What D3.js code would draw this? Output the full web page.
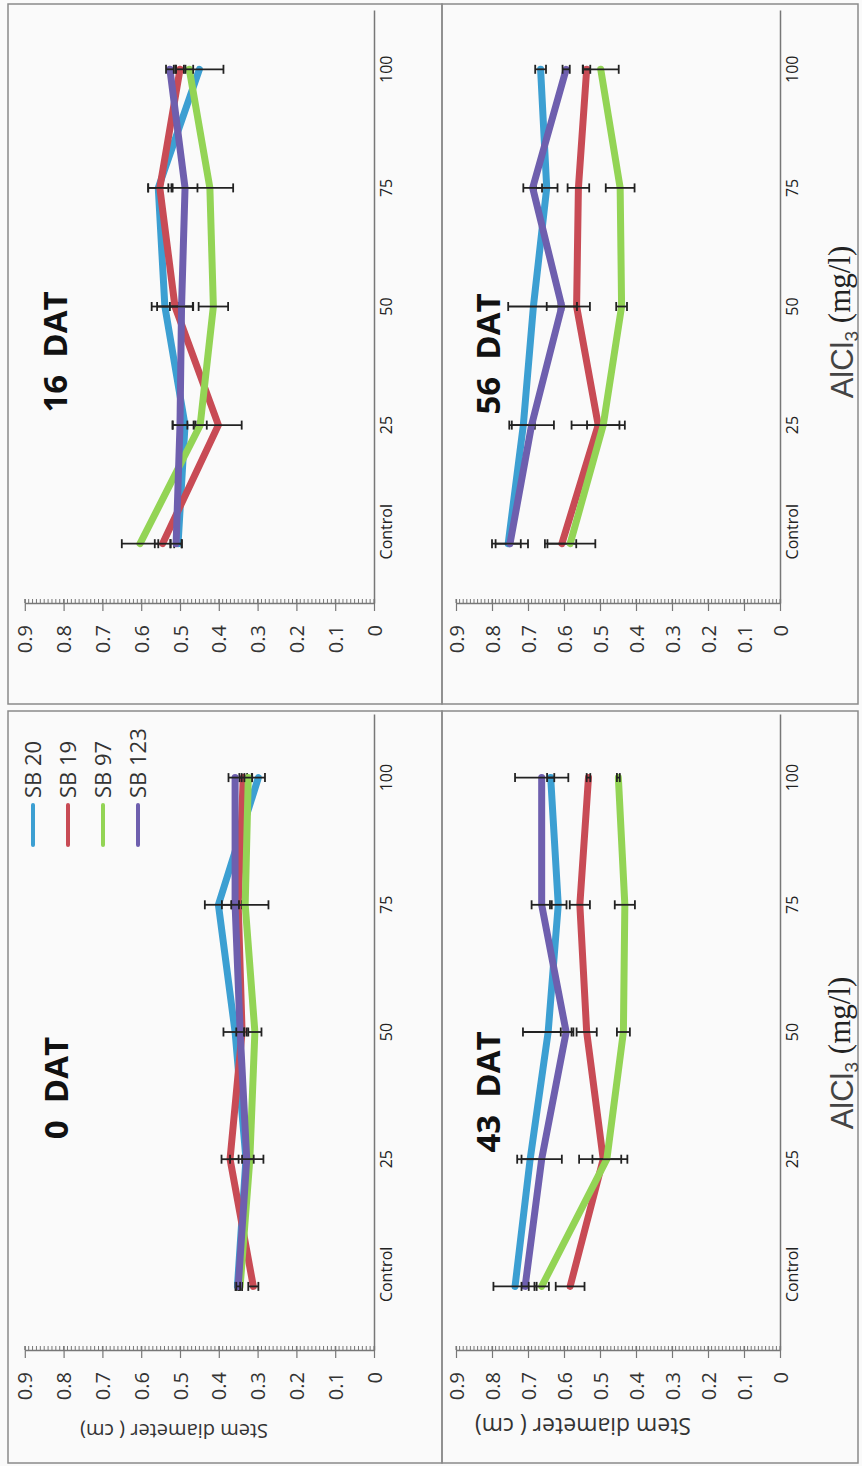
<!DOCTYPE html>
<html><head><meta charset="utf-8">
<script src="https://cdn.jsdelivr.net/npm/d3@7"></script>
<style>body{margin:0;background:#fafafa}svg{display:block}</style>
</head><body>
<script>
const categories = ["Control","25","50","75","100"];
const seriesNames = ["SB 20","SB 19","SB 97","SB 123"];
const seriesColors = ["#3c9fd2","#c84b55","#93d455","#6e5fae"];
const valueTicks = [0,0.1,0.2,0.3,0.4,0.5,0.6,0.7,0.8,0.9];

// 0 DAT (rows: SB 20, SB 19, SB 97, SB 123)
const dat0Mean = [
 [0.352,0.330,0.358,0.401,0.298],
 [0.311,0.371,0.340,0.350,0.337],
 [0.345,0.320,0.307,0.332,0.324],
 [0.350,0.328,0.345,0.358,0.358]];
const dat0Err = [
 [0.005,0.010,0.030,0.035,0.017],
 [0.013,0.022,0.006,0.010,0.010],
 [0.005,0.010,0.017,0.060,0.010],
 [0.005,0.043,0.010,0.010,0.017]];
// 16 DAT
const dat16Mean = [
 [0.505,0.487,0.539,0.556,0.450],
 [0.545,0.401,0.513,0.552,0.500],
 [0.603,0.448,0.414,0.423,0.476],
 [0.510,0.500,0.496,0.487,0.526]];
const dat16Err = [
 [0.010,0.032,0.034,0.026,0.062],
 [0.020,0.060,0.046,0.030,0.010],
 [0.047,0.017,0.038,0.060,0.010],
 [0.014,0.019,0.030,0.032,0.010]];
// 43 DAT
const dat43Mean = [
 [0.736,0.694,0.644,0.616,0.637],
 [0.583,0.491,0.537,0.556,0.532],
 [0.662,0.481,0.435,0.431,0.449],
 [0.708,0.662,0.594,0.662,0.662]];
const dat43Err = [
 [0.060,0.036,0.070,0.023,0.010],
 [0.040,0.067,0.028,0.028,0.005],
 [0.020,0.040,0.018,0.028,0.004],
 [0.010,0.056,0.015,0.028,0.074]];
// 56 DAT
const dat56Mean = [
 [0.755,0.713,0.685,0.648,0.665],
 [0.606,0.505,0.565,0.560,0.537],
 [0.583,0.491,0.440,0.444,0.498],
 [0.750,0.690,0.606,0.687,0.594]];
const dat56Err = [
 [0.035,0.032,0.070,0.030,0.015],
 [0.040,0.074,0.037,0.030,0.010],
 [0.070,0.045,0.015,0.040,0.050],
 [0.050,0.062,0.042,0.026,0.010]];

const panels = [
 {title:"16  DAT", mean:dat16Mean, err:dat16Err, frame:[8,4,442,704], v0:374, v9:24.8, yTop:10, yBot:603, tx:67, ty:352, legend:false, stem:null, alcl:null},
 {title:"56  DAT", mean:dat56Mean, err:dat56Err, frame:[442,4,858,704], v0:780, v9:456, yTop:10, yBot:603, tx:500, ty:354, legend:false, stem:null, alcl:[853,322]},
 {title:"0  DAT", mean:dat0Mean, err:dat0Err, frame:[8,711,442,1463], v0:374, v9:24.8, yTop:714, yBot:1350, tx:68, ty:1088, legend:true, stem:[174,1424,20], alcl:null},
 {title:"43  DAT", mean:dat43Mean, err:dat43Err, frame:[442,711,858,1463], v0:780, v9:456, yTop:714, yBot:1350, tx:500, ty:1092, legend:false, stem:[583,1418,23], alcl:[853,1053]}
];

const W = 862, H = 1466;
const svg = d3.select("body").append("svg").attr("width",W).attr("height",H);
svg.append("rect").attr("width",W).attr("height",H).attr("fill","#fafafa");
const FONT = "'Open Sans', 'Noto Sans', sans-serif";

panels.forEach(p => {
  const g = svg.append("g");
  const [fx0,fy0,fx1,fy1] = p.frame;
  g.append("rect").attr("x",fx0).attr("y",fy0).attr("width",fx1-fx0).attr("height",fy1-fy0)
    .attr("fill","none").attr("stroke","#8a8a8a").attr("stroke-width",1.5);

  const vx = d3.scaleLinear().domain([0,0.9]).range([p.v0,p.v9]);
  const cy = d3.scaleBand().domain(categories).range([p.yBot,p.yTop]);
  const cc = c => cy(c) + cy.bandwidth()/2;

  // minor ticks
  g.append("g").selectAll("line").data(d3.range(0,91)).join("line")
    .attr("x1",i=>vx(i/100)).attr("x2",i=>vx(i/100))
    .attr("y1",p.yBot-4).attr("y2",p.yBot)
    .attr("stroke","#777").attr("stroke-width",1);

  // value axis
  const ax = g.append("g").attr("transform",`translate(0,${p.yBot})`)
    .call(d3.axisBottom(vx).tickValues(valueTicks).tickSize(8).tickSizeOuter(0)
      .tickFormat(d => d===0 ? "0" : d3.format(".1f")(d)));
  ax.select(".domain").attr("stroke","#777").attr("stroke-width",1.5);
  ax.selectAll(".tick line").attr("stroke","#777").attr("y1",-4).attr("stroke-width",1.2);
  ax.selectAll(".tick text").attr("transform","rotate(-90)").attr("x",-22).attr("y",0)
    .attr("dy","0.35em").attr("text-anchor","end")
    .style("font-size","20px").style("font-family",FONT).attr("fill","#333");

  // category axis
  const cax = g.append("g").attr("transform",`translate(${p.v0},0)`)
    .call(d3.axisRight(cy).tickSize(0).tickSizeOuter(0));
  cax.select(".domain").attr("stroke","#777").attr("stroke-width",1.5);
  cax.selectAll(".tick text").attr("transform","rotate(-90)")
    .attr("x",d => d === categories[0] ? 12 : 0).attr("y",18)
    .attr("dy",0).attr("text-anchor","middle")
    .style("font-size","16px").style("font-family",FONT).attr("fill","#222");

  // series
  const line = d3.line().x(d=>vx(d)).y((d,i)=>cc(categories[i]));
  p.mean.forEach((vals, s) => {
    const sg = g.append("g");
    sg.append("path").attr("d",line(vals)).attr("fill","none")
      .attr("stroke",seriesColors[s]).attr("stroke-width",7)
      .attr("stroke-linecap","round").attr("stroke-linejoin","round");
    const eb = vals.map((m,i)=>({m, e:p.err[s][i], y:cc(categories[i])}));
    const ebg = sg.append("g").attr("stroke","#222").attr("stroke-width",1.8);
    ebg.selectAll("line.bar").data(eb).join("line").attr("class","bar")
      .attr("x1",d=>vx(d.m-d.e)).attr("x2",d=>vx(d.m+d.e)).attr("y1",d=>d.y).attr("y2",d=>d.y);
    ebg.selectAll("line.capa").data(eb).join("line").attr("class","capa")
      .attr("x1",d=>vx(d.m-d.e)).attr("x2",d=>vx(d.m-d.e)).attr("y1",d=>d.y-4.5).attr("y2",d=>d.y+4.5);
    ebg.selectAll("line.capb").data(eb).join("line").attr("class","capb")
      .attr("x1",d=>vx(d.m+d.e)).attr("x2",d=>vx(d.m+d.e)).attr("y1",d=>d.y-4.5).attr("y2",d=>d.y+4.5);
  });

  // title
  g.append("text").attr("transform",`translate(${p.tx},${p.ty}) rotate(-90)`)
    .attr("text-anchor","middle").style("white-space","pre")
    .style("font-family",FONT).style("font-weight","bold").style("font-size","33px")
    .attr("fill","#111").text(p.title);

  // legend
  if (p.legend) {
    seriesNames.forEach((n,i) => {
      const lx = 33 + i*35;
      g.append("line").attr("x1",lx).attr("x2",lx).attr("y1",805).attr("y2",845)
        .attr("stroke",seriesColors[i]).attr("stroke-width",4).attr("stroke-linecap","round");
      g.append("text").attr("transform",`translate(${lx+8},798) rotate(-90)`)
        .attr("text-anchor","start").style("font-family",FONT).style("font-size","22px")
        .attr("fill","#333").text(n);
    });
  }
  // stem diameter label
  if (p.stem) {
    g.append("text").attr("transform",`translate(${p.stem[0]},${p.stem[1]}) rotate(180)`)
      .attr("text-anchor","middle").style("font-family",FONT).style("font-size",p.stem[2]+"px")
      .attr("fill","#333").text("Stem diameter ( cm)");
  }
  // AlCl3 label
  if (p.alcl) {
    const t = g.append("text").attr("transform",`translate(${p.alcl[0]},${p.alcl[1]}) rotate(-90)`)
      .attr("text-anchor","middle").style("font-size","31px").attr("fill","#222").style("white-space","pre");
    t.append("tspan").style("font-family","'Liberation Sans', sans-serif").attr("fill","#444").text("AlCl");
    t.append("tspan").attr("dy","0.28em").style("font-family","'Liberation Sans', sans-serif")
      .style("font-size","19px").attr("fill","#444").text("3");
    t.append("tspan").attr("dy","-0.28em").style("font-family","'Liberation Serif', serif").text(" (mg/l)");
  }
});
</script>
</body></html>
